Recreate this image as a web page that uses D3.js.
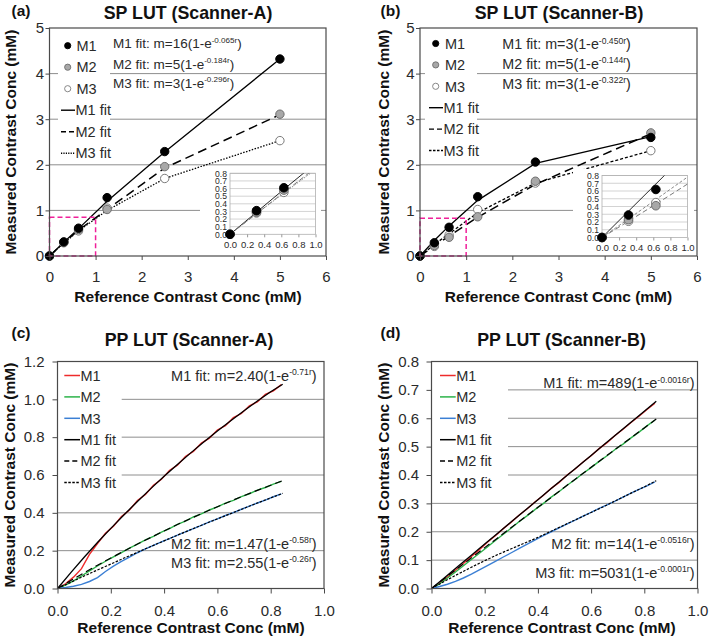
<!DOCTYPE html>
<html><head><meta charset="utf-8">
<script src="https://cdn.jsdelivr.net/npm/d3@7"></script>
<style>
body{margin:0;background:#fff}
svg{display:block}
text{font-family:"Liberation Sans",Arial,sans-serif}
</style>
</head><body>
<svg id="chart" width="709" height="638"></svg>
<script>
// ---------------- DATA ----------------
const spX = [0, 0.31, 0.63, 1.25, 2.5, 5];
const insetX = [0, 0.31, 0.63];
const insetFitX = [0, 0.31, 0.63, 1.0];

// Panel (a) SP LUT Scanner-A
const spA_M1 = [0, 0.31, 0.61, 1.28, 2.29, 4.32];
const spA_M2 = [0, 0.30, 0.58, 1.02, 1.96, 3.11];
const spA_M3 = [0, 0.29, 0.55, 1.05, 1.70, 2.53];
const spA_M1fit = [0, 0.30, 0.60, 1.20, 2.28, 4.32];
const spA_M2fit = [0, 0.29, 0.57, 1.02, 1.93, 3.10];
const spA_M3fit = [0, 0.28, 0.55, 1.00, 1.70, 2.53];
const insA_M1 = [0, 0.31, 0.61];
const insA_M2 = [0, 0.29, 0.58];
const insA_M3 = [0, 0.28, 0.55];
const insA_M1fit = [0, 0.29, 0.59, 0.93];
const insA_M2fit = [0, 0.27, 0.55, 0.87];
const insA_M3fit = [0, 0.27, 0.54, 0.85];
const eqA = [["M1 fit: m=16(1-e", "-0.065r", ")"], ["M2 fit: m=5(1-e", "-0.184r", ")"], ["M3 fit: m=3(1-e", "-0.296r", ")"]];

// Panel (b) SP LUT Scanner-B
const spB_M1 = [0, 0.29, 0.63, 1.30, 2.06, 2.60];
const spB_M2 = [0, 0.23, 0.41, 0.86, 1.64, 2.70];
const spB_M3 = [0, 0.21, 0.46, 1.02, 1.60, 2.31];
const spB_M1fit = [0, 0.34, 0.66, 1.22, 2.03, 2.62];
const spB_M2fit = [0, 0.22, 0.44, 0.85, 1.57, 2.68];
const spB_M3fit = [0, 0.25, 0.49, 0.95, 1.60, 2.31];
const insB_M1 = [0, 0.29, 0.62];
const insB_M2 = [0, 0.23, 0.41];
const insB_M3 = [0, 0.21, 0.45];
const insB_M1fit = [0, 0.34, 0.69, 1.10];
const insB_M2fit = [0, 0.21, 0.43, 0.69];
const insB_M3fit = [0, 0.24, 0.49, 0.78];
const eqB = [["M1 fit: m=3(1-e", "-0.450r", ")"], ["M2 fit: m=5(1-e", "-0.144r", ")"], ["M3 fit: m=3(1-e", "-0.322r", ")"]];

// Panels (c),(d) PP LUT: measured curves
const ppX = [0, 0.03, 0.06, 0.09, 0.12, 0.15, 0.18, 0.21, 0.24, 0.27, 0.30, 0.33, 0.36, 0.39, 0.42, 0.45, 0.48, 0.51, 0.54, 0.57, 0.60, 0.63, 0.66, 0.69, 0.72, 0.75, 0.78, 0.81, 0.84];
const ppC_M1 = [0, 0.025, 0.06, 0.105, 0.18, 0.238, 0.292, 0.329, 0.380, 0.415, 0.465, 0.497, 0.546, 0.577, 0.624, 0.652, 0.698, 0.725, 0.769, 0.795, 0.838, 0.861, 0.903, 0.925, 0.966, 0.986, 1.026, 1.045, 1.078];
const ppC_M2 = [0, 0.018, 0.040, 0.066, 0.093, 0.119, 0.144, 0.167, 0.190, 0.213, 0.234, 0.257, 0.276, 0.298, 0.317, 0.339, 0.356, 0.378, 0.394, 0.415, 0.431, 0.451, 0.466, 0.486, 0.501, 0.520, 0.534, 0.552, 0.566];
const ppC_M3 = [0, 0.005, 0.012, 0.022, 0.037, 0.058, 0.090, 0.118, 0.143, 0.166, 0.189, 0.209, 0.228, 0.247, 0.264, 0.282, 0.299, 0.317, 0.334, 0.352, 0.368, 0.386, 0.401, 0.419, 0.435, 0.452, 0.467, 0.485, 0.500];
const ppD_M1 = [0, 0.018, 0.040, 0.064, 0.088, 0.113, 0.137, 0.163, 0.186, 0.211, 0.234, 0.259, 0.281, 0.306, 0.328, 0.353, 0.374, 0.400, 0.421, 0.446, 0.468, 0.493, 0.514, 0.539, 0.561, 0.585, 0.607, 0.631, 0.653];
const ppD_M2 = [0, 0.016, 0.037, 0.058, 0.080, 0.102, 0.124, 0.146, 0.169, 0.191, 0.213, 0.236, 0.257, 0.279, 0.299, 0.322, 0.342, 0.364, 0.384, 0.406, 0.426, 0.448, 0.468, 0.490, 0.509, 0.531, 0.551, 0.573, 0.594];
const ppD_M3 = [0, 0.007, 0.015, 0.025, 0.037, 0.051, 0.066, 0.081, 0.096, 0.111, 0.126, 0.141, 0.156, 0.171, 0.186, 0.200, 0.214, 0.228, 0.241, 0.255, 0.268, 0.282, 0.295, 0.308, 0.322, 0.336, 0.349, 0.362, 0.376];
// fit curves
const ppFitX = [0, 0.05, 0.10, 0.15, 0.20, 0.25, 0.30, 0.35, 0.40, 0.45, 0.50, 0.55, 0.60, 0.65, 0.70, 0.75, 0.80, 0.845];
const ppC_M1fit = [0, 0.084, 0.165, 0.243, 0.318, 0.390, 0.460, 0.528, 0.593, 0.656, 0.717, 0.776, 0.833, 0.887, 0.940, 0.991, 1.040, 1.080];
const ppC_M2fit = [0, 0.042, 0.083, 0.123, 0.161, 0.198, 0.235, 0.270, 0.304, 0.338, 0.370, 0.402, 0.432, 0.462, 0.491, 0.519, 0.546, 0.570];
const ppC_M3fit = [0, 0.033, 0.066, 0.098, 0.129, 0.161, 0.191, 0.222, 0.252, 0.282, 0.311, 0.340, 0.368, 0.396, 0.424, 0.452, 0.479, 0.503];
const ppD_M1fit = [0, 0.039, 0.078, 0.117, 0.157, 0.196, 0.235, 0.274, 0.313, 0.352, 0.391, 0.430, 0.469, 0.508, 0.547, 0.586, 0.625, 0.660];
const ppD_M2fit = [0, 0.036, 0.072, 0.108, 0.144, 0.179, 0.215, 0.251, 0.286, 0.321, 0.357, 0.392, 0.427, 0.462, 0.497, 0.531, 0.566, 0.597];
const ppD_M3fit = [0, 0.026, 0.051, 0.075, 0.098, 0.120, 0.140, 0.160, 0.180, 0.202, 0.224, 0.246, 0.268, 0.290, 0.313, 0.336, 0.358, 0.380];
const eqC = [["M1 fit: m=2.40(1-e", "-0.71r", ")"], ["M2 fit: m=1.47(1-e", "-0.58r", ")"], ["M3 fit: m=2.55(1-e", "-0.26r", ")"]];
const eqD = [["M1 fit: m=489(1-e", "-0.0016r", ")"], ["M2 fit: m=14(1-e", "-0.0516r", ")"], ["M3 fit: m=5031(1-e", "-0.0001r", ")"]];

// labels & ticks
const legendLabels = ["M1", "M2", "M3", "M1 fit", "M2 fit", "M3 fit"];
const spXTicks = [0, 1, 2, 3, 4, 5, 6];
const spYTicks = [0, 1, 2, 3, 4, 5];
const ppXTicks = [0, 0.2, 0.4, 0.6, 0.8, 1.0];
const ppCYTicks = [0, 0.2, 0.4, 0.6, 0.8, 1.0, 1.2];
const ppDYTicks = [0, 0.1, 0.2, 0.3, 0.4, 0.5, 0.6, 0.7, 0.8];
const insXTicks = [0, 0.2, 0.4, 0.6, 0.8, 1.0];
const insYTicks = [0, 0.1, 0.2, 0.3, 0.4, 0.5, 0.6, 0.7, 0.8];
const panelTitles = ["SP LUT (Scanner-A)", "SP LUT (Scanner-B)", "PP LUT (Scanner-A)", "PP LUT (Scanner-B)"];
const panelTags = ["(a)", "(b)", "(c)", "(d)"];
const xTitle = "Reference Contrast Conc (mM)";
const yTitle = "Measured Contrast Conc (mM)";
const seriesColors = ["#ee2b2b", "#2cb34a", "#3b7fd4"];

// ---------------- DRAW ----------------
const svg = d3.select("#chart");
const GRID = "#8e8e8e", FRAME = "#4a4a4a", TXT = "#2a2a2a";

function styleAxis(ax, fs) {
  ax.select(".domain").remove();
  ax.selectAll(".tick line").attr("stroke", FRAME);
  ax.selectAll(".tick text").attr("font-size", fs).attr("fill", TXT).attr("font-family", "Liberation Sans, Arial, sans-serif");
}

function supText(g, x, y, anchor, parts, fs) {
  const t = g.append("text").attr("x", x).attr("y", y).attr("text-anchor", anchor)
    .attr("font-size", fs).attr("fill", TXT);
  t.append("tspan").text(parts[0]);
  t.append("tspan").attr("font-size", fs * 0.6).attr("dy", -fs * 0.4).text(parts[1]);
  t.append("tspan").attr("dy", fs * 0.4).text(parts[2]);
}

function titles(i, cx, ty, tagX, tagY, xt, xtY, ytX, ytCY) {
  svg.append("text").attr("x", cx).attr("y", ty).attr("text-anchor", "middle")
    .attr("font-size", 17.8).attr("font-weight", "bold").attr("fill", "#111").text(panelTitles[i]);
  svg.append("text").attr("x", tagX).attr("y", tagY)
    .attr("font-size", 15.5).attr("font-weight", "bold").attr("fill", "#111").text(panelTags[i]);
  svg.append("text").attr("x", xt).attr("y", xtY).attr("text-anchor", "middle")
    .attr("font-size", 15.5).attr("font-weight", "bold").attr("fill", "#111").text(xTitle);
  svg.append("text").attr("transform", `translate(${ytX},${ytCY}) rotate(-90)`).attr("text-anchor", "middle")
    .attr("font-size", 15.5).attr("font-weight", "bold").attr("fill", "#111").text(yTitle);
}

const markerStyle = [
  {fill: "#000", stroke: "#000"},
  {fill: "#a8a8a8", stroke: "#6e6e6e"},
  {fill: "#fff", stroke: "#7a7a7a"}
];

function spPanel(c) {
  const g = svg.append("g");
  const x = d3.scaleLinear([0, 6], [c.L, c.R]);
  const y = d3.scaleLinear([0, 5], [c.B, c.T]);
  g.selectAll("line.grid").data([1, 2, 3, 4]).join("line").attr("class", "grid")
    .attr("x1", c.L).attr("x2", c.R).attr("y1", d => y(d)).attr("y2", d => y(d))
    .attr("stroke", GRID).attr("stroke-width", 1);
  g.append("rect").attr("x", c.legBox[0]).attr("y", c.legBox[1]).attr("width", c.legBox[2]).attr("height", c.legBox[3]).attr("fill", "#fff");
  const dashes = [null, "9,5", c.m3dash];
  const widths = [1.3, 1.5, 1.3];
  c.fits.forEach((arr, k) => {
    const ln = d3.line().x((d, j) => x(spX[j])).y(d => y(d));
    g.append("path").attr("d", ln(arr)).attr("fill", "none").attr("stroke", "#000")
      .attr("stroke-width", widths[k]).attr("stroke-dasharray", dashes[k]);
  });
  [2, 1, 0].forEach(k => {
    g.selectAll(null).data(c.pts[k]).join("circle")
      .attr("cx", (d, j) => x(spX[j])).attr("cy", d => y(d)).attr("r", 4.2)
      .attr("fill", markerStyle[k].fill).attr("stroke", markerStyle[k].stroke).attr("stroke-width", 1);
  });
  g.append("rect").attr("x", x(0)).attr("y", y(c.magY)).attr("width", x(1) - x(0)).attr("height", y(0) - y(c.magY))
    .attr("fill", "none").attr("stroke", "#f0209a").attr("stroke-width", 1.5).attr("stroke-dasharray", "5,3");
  // inset
  const I = c.inset;
  g.append("rect").attr("x", I.bg[0]).attr("y", I.bg[1]).attr("width", I.bg[2]).attr("height", I.bg[3]).attr("fill", "#fff");
  const ix = d3.scaleLinear([0, 1], [I.L, I.R]);
  const iy = d3.scaleLinear([0, 0.8], [I.B, I.T]);
  g.selectAll(null).data(insYTicks.slice(1)).join("line")
    .attr("x1", I.L).attr("x2", I.R).attr("y1", d => iy(d)).attr("y2", d => iy(d))
    .attr("stroke", "#c8c8c8").attr("stroke-width", 0.8);
  g.append("rect").attr("x", I.L).attr("y", I.T).attr("width", I.R - I.L).attr("height", I.B - I.T)
    .attr("fill", "none").attr("stroke", "#b0b0b0").attr("stroke-width", 0.8);
  const iax = g.append("g").attr("transform", `translate(0,${I.B})`)
    .call(d3.axisBottom(ix).tickValues(insXTicks).tickSize(3).tickPadding(4).tickFormat(d3.format(".1f")));
  styleAxis(iax, 9.5);
  iax.selectAll(".tick line").attr("stroke", "#999");
  const iay = g.append("g").attr("transform", `translate(${I.L},0)`)
    .call(d3.axisLeft(iy).tickValues(insYTicks).tickSize(0).tickPadding(3).tickFormat(d3.format(".1f")));
  styleAxis(iay, 8.6);
  const clipId = "clip" + c.id;
  g.append("clipPath").attr("id", clipId).append("rect").attr("x", I.L).attr("y", I.T).attr("width", I.R - I.L).attr("height", I.B - I.T);
  const idash = [null, "5,3", c.m3dashInset];
  const icol = ["#111", "#6a6a6a", "#7a7a7a"];
  c.insFits.forEach((arr, k) => {
    const ln = d3.line().x((d, j) => ix(insetFitX[j])).y(d => iy(d));
    g.append("path").attr("d", ln(arr)).attr("clip-path", `url(#${clipId})`).attr("fill", "none")
      .attr("stroke", icol[k]).attr("stroke-width", 0.9).attr("stroke-dasharray", idash[k]);
  });
  [2, 1, 0].forEach(k => {
    g.selectAll(null).data(c.insPts[k]).join("circle")
      .attr("cx", (d, j) => ix(insetX[j])).attr("cy", d => iy(d)).attr("r", 4.3)
      .attr("fill", markerStyle[k].fill).attr("stroke", markerStyle[k].stroke).attr("stroke-width", 1);
  });
  g.append("rect").attr("x", c.L).attr("y", c.T).attr("width", c.R - c.L).attr("height", c.B - c.T)
    .attr("fill", "none").attr("stroke", FRAME).attr("stroke-width", 1.2);
  const xa = g.append("g").attr("transform", `translate(0,${c.B})`)
    .call(d3.axisBottom(x).tickValues(spXTicks).tickSize(4).tickPadding(11).tickFormat(d3.format("d")));
  styleAxis(xa, 15);
  const ya = g.append("g").attr("transform", `translate(${c.L},0)`)
    .call(d3.axisLeft(y).tickValues(spYTicks).tickSize(4).tickPadding(1.5).tickFormat(d3.format("d")));
  styleAxis(ya, 15);
  legendLabels.forEach((lab, k) => {
    const cy = c.legRow0 + k * c.legStep;
    if (k < 3) {
      g.append("circle").attr("cx", c.legMarkX).attr("cy", cy).attr("r", 3.1)
        .attr("fill", markerStyle[k].fill).attr("stroke", markerStyle[k].stroke).attr("stroke-width", 0.9);
      g.append("text").attr("x", c.legTextX).attr("y", cy + 5.2).attr("font-size", 14.5).attr("fill", TXT).text(lab);
    } else {
      g.append("line").attr("x1", c.legLineX[0]).attr("x2", c.legLineX[1]).attr("y1", cy).attr("y2", cy)
        .attr("stroke", "#000").attr("stroke-width", 1.4)
        .attr("stroke-dasharray", k === 3 ? null : (k === 4 ? "5,3" : c.m3dashLeg));
      g.append("text").attr("x", c.legLineX[1] + 0.5).attr("y", cy + 5.2).attr("font-size", 14.5).attr("fill", TXT).text(lab);
    }
  });
  c.eq.forEach((p, k) => supText(g, c.eqX, c.eqY[k] + 4.8, "start", p, c.eqFs));
}

function ppPanel(c) {
  const g = svg.append("g");
  const x = d3.scaleLinear([0, 1], [c.L, c.R]);
  const y = d3.scaleLinear([0, c.ymax], [c.B, c.T]);
  g.selectAll("line.grid").data(c.grid).join("line").attr("class", "grid")
    .attr("x1", c.L).attr("x2", c.R).attr("y1", d => y(d)).attr("y2", d => y(d))
    .attr("stroke", GRID).attr("stroke-width", 1);
  g.append("rect").attr("x", c.legBox[0]).attr("y", c.legBox[1]).attr("width", c.legBox[2]).attr("height", c.legBox[3]).attr("fill", "#fff");
  c.meas.forEach((arr, k) => {
    const ln = d3.line().x((d, j) => x(ppX[j])).y(d => y(d));
    g.append("path").attr("d", ln(arr)).attr("fill", "none").attr("stroke", seriesColors[k]).attr("stroke-width", 1.4);
  });
  const dashes = [null, "7,4", "2.5,1.5"];
  c.fits.forEach((arr, k) => {
    const ln = d3.line().x((d, j) => x(ppFitX[j])).y(d => y(d));
    g.append("path").attr("d", ln(arr)).attr("fill", "none").attr("stroke", "#000")
      .attr("stroke-width", k === 0 ? 1.3 : 1.2).attr("stroke-dasharray", dashes[k]);
  });
  g.append("rect").attr("x", c.L).attr("y", c.T).attr("width", c.R - c.L).attr("height", c.B - c.T)
    .attr("fill", "none").attr("stroke", FRAME).attr("stroke-width", 1.2);
  const xa = g.append("g").attr("transform", `translate(0,${c.B})`)
    .call(d3.axisBottom(x).tickValues(ppXTicks).tickSize(5).tickPadding(11.5).tickFormat(d3.format(".1f")));
  styleAxis(xa, 15);
  const ya = g.append("g").attr("transform", `translate(${c.L},0)`)
    .call(d3.axisLeft(y).tickValues(c.yTicks).tickSize(5).tickPadding(c.yPad).tickFormat(d3.format(".1f")));
  styleAxis(ya, 15);
  legendLabels.forEach((lab, k) => {
    const cy = c.legRow0 + k * c.legStep;
    g.append("line").attr("x1", c.legLineX[0]).attr("x2", c.legLineX[1]).attr("y1", cy).attr("y2", cy)
      .attr("stroke", k < 3 ? seriesColors[k] : "#000").attr("stroke-width", 1.5)
      .attr("stroke-dasharray", k === 4 ? "5,3" : (k === 5 ? "2.5,1.5" : null));
    g.append("text").attr("x", c.legLineX[1] + 0.5).attr("y", cy + 5.2).attr("font-size", 14.5).attr("fill", TXT).text(lab);
  });
  c.eqPos.forEach((p, k) => supText(g, p[0], p[1] + 5, "end", c.eq[k], 14.5));
}

spPanel({id: "a", L: 49.5, R: 326, T: 28, B: 256,
  fits: [spA_M1fit, spA_M2fit, spA_M3fit], pts: [spA_M1, spA_M2, spA_M3],
  m3dash: "1.5,1.5", m3dashInset: "1.5,1.5", m3dashLeg: "1.2,1.2", magY: 0.85,
  legBox: [58, 35, 52, 127], legMarkX: 67.7, legTextX: 76.5, legLineX: [61, 75], legRow0: 45.7, legStep: 21.5,
  eq: eqA, eqX: 113, eqY: [43.5, 64, 83], eqFs: 13.5,
  inset: {L: 230, R: 315.5, T: 173.3, B: 234.3, bg: [200, 167, 121, 87]},
  insPts: [insA_M1, insA_M2, insA_M3], insFits: [insA_M1fit, insA_M2fit, insA_M3fit]});

spPanel({id: "b", L: 420, R: 697, T: 28, B: 256,
  fits: [spB_M1fit, spB_M2fit, spB_M3fit], pts: [spB_M1, spB_M2, spB_M3],
  m3dash: "3,2", m3dashInset: "3,2", m3dashLeg: "2.5,1.5", magY: 0.83,
  legBox: [425, 33, 52, 127], legMarkX: 435.7, legTextX: 445, legLineX: [429, 443], legRow0: 43.5, legStep: 21.4,
  eq: eqB, eqX: 502.3, eqY: [44.5, 64, 84], eqFs: 14.3,
  inset: {L: 602, R: 687.5, T: 175.5, B: 237.5, bg: [573, 169, 121, 87]},
  insPts: [insB_M1, insB_M2, insB_M3], insFits: [insB_M1fit, insB_M2fit, insB_M3fit]});

ppPanel({L: 57.5, R: 324, T: 361.5, B: 588.5, ymax: 1.2, yTicks: ppCYTicks, yPad: 8,
  grid: [0.2, 0.4, 0.6, 0.8, 1.0],
  legBox: [58, 365, 63.7, 128], legLineX: [64.3, 80], legRow0: 375.5, legStep: 21.4,
  meas: [ppC_M1, ppC_M2, ppC_M3], fits: [ppC_M1fit, ppC_M2fit, ppC_M3fit],
  eq: eqC, eqPos: [[316.7, 376], [316.7, 544], [316.7, 562.5]]});

ppPanel({L: 431.5, R: 697.5, T: 361.5, B: 588.5, ymax: 0.8, yTicks: ppDYTicks, yPad: 7.5,
  grid: [0.1, 0.2, 0.3, 0.4, 0.5, 0.6, 0.7],
  legBox: [432, 365, 76, 128], legLineX: [440, 455.7], legRow0: 375.5, legStep: 21.4,
  meas: [ppD_M1, ppD_M2, ppD_M3], fits: [ppD_M1fit, ppD_M2fit, ppD_M3fit],
  eq: eqD, eqPos: [[694.5, 383.3], [694.5, 544], [694.5, 573]]});

titles(0, 188, 18.5, 11.5, 15.5, 188, 302, 15.5, 142);
titles(1, 559, 18.5, 380.5, 15.5, 558.5, 302, 388.5, 142);
titles(2, 189, 346, 11.5, 338, 191, 633, 15, 475);
titles(3, 561.5, 346, 380.5, 338, 562, 633, 388.5, 475);
</script>
</body></html>
